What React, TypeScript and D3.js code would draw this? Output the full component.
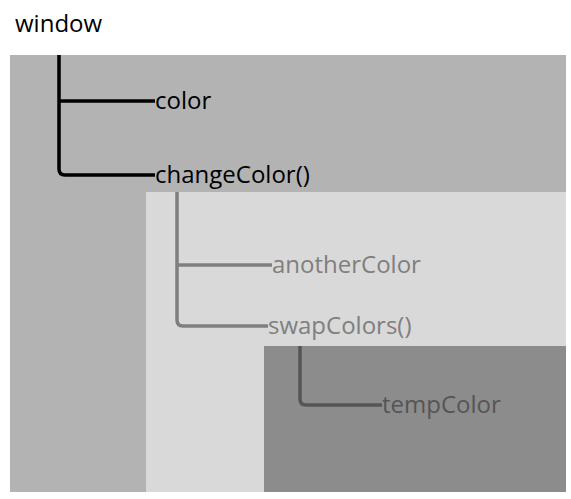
import React from 'react';
import * as d3 from 'd3';

// scopes, outer to inner
const scopeNames = ['window', 'changeColor()', 'swapColors()'];
const scopeFills = ['#b3b3b3', '#d9d9d9', '#8c8c8c'];
const scopeStrokes = ['#000000', '#7f7f7f', '#555555'];
// children of each scope
const scopeChildren = [['color', 'changeColor()'], ['anotherColor', 'swapColors()'], ['tempColor']];

// layout
const boxes = [
  { x: 10, y: 55 },
  { x: 146, y: 192 },
  { x: 264, y: 346 },
];
const trunkX = [59, 177, 300];
const rowY = [[101, 175], [265, 326], [405]];
const labelX = [[155, 155], [272, 268], [382]];
const right = 566;
const bottom = 492;

function branch(x: number, y0: number, y1: number, x1: number, r: number, corner: boolean) {
  const p = d3.path();
  if (corner) {
    p.moveTo(x, y0);
    p.lineTo(x, y1 - r);
    p.quadraticCurveTo(x, y1, x + r, y1);
    p.lineTo(x1, y1);
  } else {
    p.moveTo(x, y1);
    p.lineTo(x1, y1);
  }
  return p.toString();
}

const App: React.FC = () => {
  const font = "'Open Sans', sans-serif";
  return (
    <svg width={571} height={499} style={{ position: 'absolute', left: 0, top: 0, background: '#fff' }}>
      <text x={15} y={32} fontSize={24} fontFamily={font} fill="#000">{scopeNames[0]}</text>
      {boxes.map((b, i) => (
        <rect key={i} x={b.x} y={b.y} width={right - b.x} height={bottom - b.y} fill={scopeFills[i]} />
      ))}
      {scopeChildren.map((kids, i) => (
        <g key={i} stroke={scopeStrokes[i]} strokeWidth={3.5} fill="none">
          {kids.map((k, j) => (
            <path key={k} d={branch(trunkX[i], boxes[i].y, rowY[i][j], labelX[i][j], 6, j === kids.length - 1)} />
          ))}
        </g>
      ))}
      {scopeChildren.map((kids, i) =>
        kids.map((k, j) => (
          <text key={k} x={labelX[i][j]} y={rowY[i][j]} dy="0.35em" fontSize={24} fontFamily={font} fill={scopeStrokes[i]}>{k}</text>
        ))
      )}
    </svg>
  );
};

export default App;
